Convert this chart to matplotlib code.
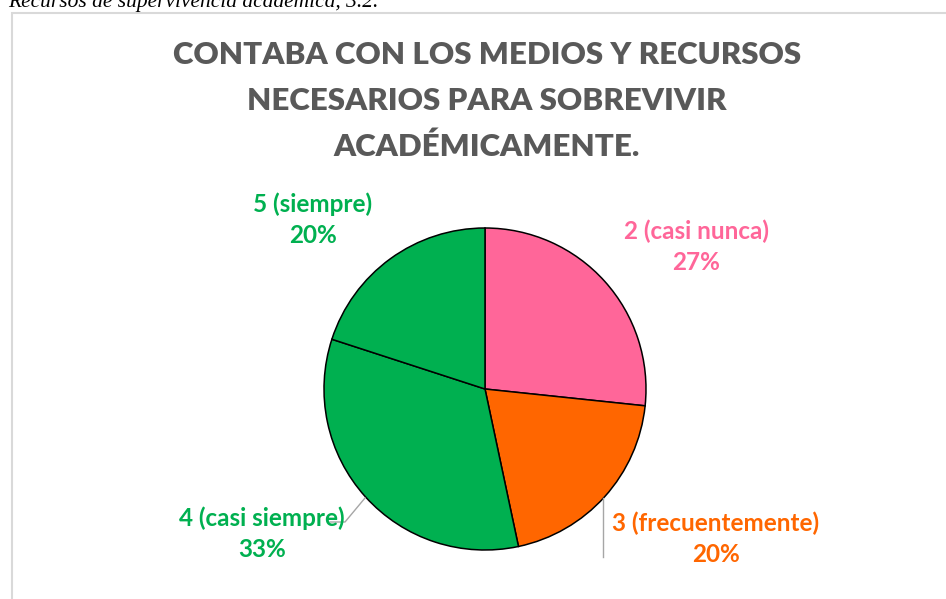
import matplotlib.pyplot as plt
from matplotlib.patches import Rectangle

# data
categories = ["2 (casi nunca)", "3 (frecuentemente)", "4 (casi siempre)", "5 (siempre)"]
counts = [4, 3, 5, 3]
colors = ["#FF6699", "#FF6600", "#00B050", "#00B050"]
title = "CONTABA CON LOS MEDIOS Y RECURSOS\nNECESARIOS PARA SOBREVIVIR\nACADÉMICAMENTE."
caption = "Recursos de supervivencia académica, 3.2."

W, H = 946, 599

fig = plt.figure(figsize=(W / 100, H / 100), dpi=100)
ax = fig.add_axes([0, 0, 1, 1])

def y(v):
    # image pixel row -> axes coordinate
    return H - v

cx, cy, r = 485, 389, 161
wedges, _ = ax.pie(counts, colors=colors, startangle=90, counterclock=False,
                   center=(cx, y(cy)), radius=r,
                   wedgeprops=dict(edgecolor="black", linewidth=1.1))
ax.set_xlim(0, W)
ax.set_ylim(0, H)
ax.set_aspect("auto")
ax.axis("off")

# chart frame
ax.add_patch(Rectangle((11.5, y(1000)), 2000, 1000 - 12.5, fill=False,
                       edgecolor="#D9D9D9", linewidth=1.5, clip_on=False))

# caption cut off at top
ax.text(8, y(7), caption, fontsize=15.5, family="Liberation Serif", style="italic",
        color="black", ha="left", va="baseline")

ax.text(487, y(101), title, fontsize=22.5, family="Lato", fontweight="heavy",
        color="#595959", ha="center", va="center", linespacing=1.75)

# data labels
total = sum(counts)
label_pos = [(696, 247), (716, 539), (262, 534), (313, 220)]
for name, n, c, (lx, ly) in zip(categories, counts, colors, label_pos):
    ax.text(lx, y(ly), f"{name}\n{round(100 * n / total)}%", fontsize=17.5,
            family="Lato", fontweight="bold", color=c, ha="center", va="center",
            linespacing=1.4)

# leader lines
ax.plot([330, 345, 365], [y(522), y(522), y(498)], color="#A6A6A6", lw=1)
ax.plot([603, 603], [y(498), y(557)], color="#A6A6A6", lw=1)

fig.savefig("out.png", dpi=100)
